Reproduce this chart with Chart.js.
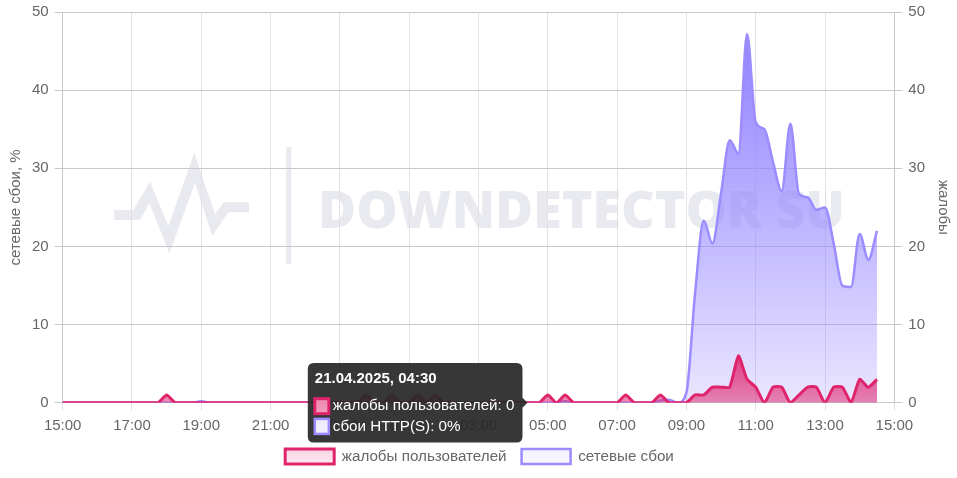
<!DOCTYPE html>
<html>
<head>
<meta charset="utf-8">
<style>
html,body{margin:0;padding:0;background:#fff}
#wrap{position:relative;width:957px;height:478px}
</style>
<script src="https://cdn.jsdelivr.net/npm/chart.js@4"></script>
</head>
<body>
<div id="wrap"><canvas id="chart" width="957" height="478"></canvas></div>
<script>
const FONT='"Liberation Sans",Arial,sans-serif';

// 15 minute steps, one row = 2 hours
const times=[
 '15:00','15:15','15:30','15:45','16:00','16:15','16:30','16:45',
 '17:00','17:15','17:30','17:45','18:00','18:15','18:30','18:45',
 '19:00','19:15','19:30','19:45','20:00','20:15','20:30','20:45',
 '21:00','21:15','21:30','21:45','22:00','22:15','22:30','22:45',
 '23:00','23:15','23:30','23:45','00:00','00:15','00:30','00:45',
 '01:00','01:15','01:30','01:45','02:00','02:15','02:30','02:45',
 '03:00','03:15','03:30','03:45','04:00','04:15','04:30','04:45',
 '05:00','05:15','05:30','05:45','06:00','06:15','06:30','06:45',
 '07:00','07:15','07:30','07:45','08:00','08:15','08:30','08:45',
 '09:00','09:15','09:30','09:45','10:00','10:15','10:30','10:45',
 '11:00','11:15','11:30','11:45','12:00','12:15','12:30','12:45',
 '13:00','13:15','13:30','13:45','14:00','14:15','14:30','14:45',
 '15:00'];
const complaints=[
 0,0,0,0,0,0,0,0,
 0,0,0,0,1,0,0,0,
 0,0,0,0,0,0,0,0,
 0,0,0,0,0,0,0,0,
 0,0,0,1,0,0,1,0,
 0,1,0,1,0,0,0,0,
 0,0,0,0,0,0,0,0,
 1,0,1,0,0,0,0,0,
 0,1,0,0,0,1,0,0,
 0,1,1,2,2,2,6,3,
 2,0,2,2,0,1,2,2,
 0,2,2,0,3,2,3];
const outages=[
 0,0,0,0,0,0,0,0,
 0,0,0,0,0,0,0,0,
 0.2,0,0,0,0,0,0,0,
 0,0,0,0,0,0,0,0,
 0,0,0,0,0,0,0,0,
 0,0,0,0,0,0,0,0,
 0,0,0,0,0,0,0,0,
 0,0,0.2,0,0,0,0,0,
 0,0,0,0,0,0.3,0.4,0,
 1.3,14,23.3,20.4,26.8,33.6,31.9,47.2,
 35.9,35,30.8,27.1,35.7,26.7,26.3,24.7,
 25,20.4,15,14.8,21.6,18.3,22];
const yTicks=[0,10,20,30,40,50];
const seriesNames=['жалобы пользователей','сетевые сбои'];
const tooltipNames=['жалобы пользователей','сбои HTTP(S)'];
const tooltipUnits=['','%'];
const tooltipDate='21.04.2025';
const activeTime='04:30';

const canvas=document.getElementById('chart');
const ctx=canvas.getContext('2d');
const pinkFill=ctx.createLinearGradient(0,340,0,478);
pinkFill.addColorStop(0,'rgba(224,36,108,.95)');
pinkFill.addColorStop(1,'rgba(224,36,108,0)');
const purpleFill=ctx.createLinearGradient(0,70,0,478);
purpleFill.addColorStop(0,'rgba(149,132,255,.95)');
purpleFill.addColorStop(1,'rgba(149,132,255,.03)');

// watermark behind the plot
const watermark={
  id:'watermark',
  beforeDraw(c){
    const g=c.ctx;
    g.save();
    g.fillStyle='#e9eaef';
    const pts=[[43,210],[100,210],[150,125],[205,258],[283,38],[345,222],[372,187],[447,187],[447,217],[385,217],[337,287],[285,130],[208,340],[148,190],[120,240],[43,240]];
    g.beginPath();
    pts.forEach(([x,y],i)=>{const px=100+x/3,py=140+y/3;i?g.lineTo(px,py):g.moveTo(px,py)});
    g.closePath();g.fill();
    g.fillRect(286.3,147,5,117);
    g.font='800 52px "Open Sans",'+FONT;
    g.textBaseline='alphabetic';
    g.fillText('DOWNDETECTOR SU',318,228);
    g.restore();
  }
};

const chart=new Chart(ctx,{
  type:'line',
  plugins:[watermark],
  data:{labels:times,datasets:[
    {label:seriesNames[0],data:complaints,yAxisID:'yr',borderColor:'#e0246c',backgroundColor:pinkFill,borderWidth:3,fill:'origin',tension:.18,pointRadius:0,pointHoverRadius:0,order:1},
    {label:seriesNames[1],data:outages,yAxisID:'y',borderColor:'#9b8cff',backgroundColor:purpleFill,borderWidth:2.5,fill:'origin',cubicInterpolationMode:'monotone',pointRadius:0,pointHoverRadius:0,order:2}
  ]},
  options:{
    responsive:false,animation:false,
    layout:{padding:{left:3,right:1,top:0,bottom:4}},
    interaction:{mode:'index',intersect:false},
    plugins:{
      legend:{position:'bottom',labels:{color:'#666',font:{size:15.2,family:FONT},boxWidth:49,boxHeight:15,padding:15}},
      tooltip:{
        backgroundColor:'rgba(40,40,40,.93)',cornerRadius:6,padding:{left:7,right:8,top:7,bottom:7},caretPadding:3,
        titleFont:{size:15,weight:'bold',family:FONT},bodyFont:{size:15.2,family:FONT},
        titleMarginBottom:9,bodySpacing:2,boxWidth:14,boxHeight:15,boxPadding:2,
        callbacks:{
          title:items=>tooltipDate+', '+items[0].label,
          label:i=>tooltipNames[i.datasetIndex]+': '+i.raw+tooltipUnits[i.datasetIndex]
        }
      }
    },
    scales:{
      x:{
        grid:{color:'#e2e2e6',tickLength:8},border:{color:'#c8c8cc'},
        afterBuildTicks(s){s.ticks=s.ticks.filter(t=>t.value%8===0)},
        afterFit(s){s.height-=7},
        ticks:{autoSkip:false,maxRotation:0,color:'#666',font:{size:15,family:FONT},padding:6}
      },
      y:{
        position:'left',min:0,max:50,
        afterBuildTicks(s){s.ticks=yTicks.map(v=>({value:v}))},
        afterFit(s){s.width-=3;s.paddingTop=12},
        grid:{color:'#c8c8cc',tickLength:8},border:{color:'#c8c8cc'},
        ticks:{color:'#666',font:{size:15,family:FONT},padding:6},
        title:{display:true,text:'сетевые сбои, %',color:'#666',font:{size:15,family:FONT},padding:4}
      },
      yr:{
        position:'right',min:0,max:50,
        afterBuildTicks(s){s.ticks=yTicks.map(v=>({value:v}))},
        afterFit(s){s.width-=1;s.paddingTop=12},
        grid:{drawOnChartArea:false,color:'#c8c8cc',tickLength:8},border:{color:'#c8c8cc'},
        ticks:{color:'#666',font:{size:15,family:FONT},padding:6},
        title:{display:true,text:'жалобы',color:'#666',font:{size:15,family:FONT},padding:4}
      }
    }
  }
});

const idx=times.indexOf(activeTime);
const active=[{datasetIndex:0,index:idx},{datasetIndex:1,index:idx}];
const pt=chart.getDatasetMeta(0).data[idx];
chart.setActiveElements(active);
chart.tooltip.setActiveElements(active,{x:pt.x,y:pt.y});
chart.update();
</script>
</body>
</html>
